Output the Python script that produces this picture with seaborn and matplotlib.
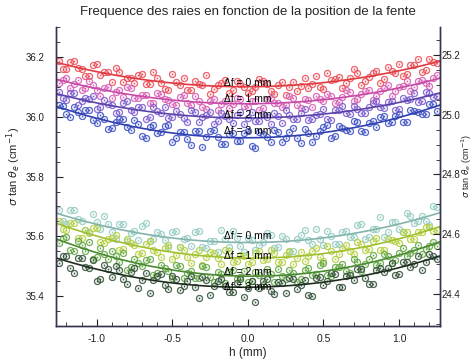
"""Frequence des raies en fonction de la position de la fente."""
import matplotlib
matplotlib.use('Agg')
import matplotlib.pyplot as plt
from matplotlib.ticker import MultipleLocator
import seaborn as sns

# slit positions (mm), two interleaved scans
h_a = [-1.25, -1.20, -1.15, -1.10, -1.05, -1.00, -0.95, -0.90, -0.85, -0.80,
       -0.75, -0.70, -0.65, -0.60, -0.55, -0.50, -0.45, -0.40, -0.35, -0.30,
       -0.25, -0.20, -0.15, -0.10, -0.05, 0.00, 0.05, 0.10, 0.15, 0.20,
       0.25, 0.30, 0.35, 0.40, 0.45, 0.50, 0.55, 0.60, 0.65, 0.70,
       0.75, 0.80, 0.85, 0.90, 0.95, 1.00, 1.05, 1.10, 1.15, 1.20, 1.25]
h_b = [-1.225, -1.175, -1.125, -1.075, -1.025, -0.975, -0.925, -0.875, -0.825, -0.775,
       -0.725, -0.675, -0.625, -0.575, -0.525, -0.475, -0.425, -0.375, -0.325, -0.275,
       -0.225, -0.175, -0.125, -0.075, -0.025, 0.025, 0.075, 0.125, 0.175, 0.225,
       0.275, 0.325, 0.375, 0.425, 0.475, 0.525, 0.575, 0.625, 0.675, 0.725,
       0.775, 0.825, 0.875, 0.925, 0.975, 1.025, 1.075, 1.125, 1.175, 1.225]

# upper line (left axis), delta f = 0..3 mm, scan a
top_0a = [36.185, 36.159, 36.186, 36.161, 36.135, 36.175, 36.148, 36.116, 36.149, 36.129,
          36.113, 36.142, 36.111, 36.128, 36.092, 36.143, 36.105, 36.091, 36.121, 36.106,
          36.076, 36.107, 36.124, 36.090, 36.109, 36.080, 36.099, 36.120, 36.086, 36.105,
          36.073, 36.116, 36.103, 36.095, 36.135, 36.094, 36.122, 36.133, 36.112, 36.158,
          36.107, 36.133, 36.153, 36.126, 36.154, 36.177, 36.144, 36.174, 36.149, 36.193, 36.181]
top_1a = [36.113, 36.131, 36.111, 36.088, 36.118, 36.089, 36.096, 36.064, 36.091, 36.099,
          36.061, 36.072, 36.046, 36.079, 36.058, 36.044, 36.067, 36.045, 36.071, 36.034,
          36.052, 36.023, 36.054, 36.042, 36.059, 36.033, 36.051, 36.028, 36.064, 36.047,
          36.038, 36.062, 36.029, 36.057, 36.071, 36.052, 36.068, 36.049, 36.088, 36.052,
          36.075, 36.091, 36.069, 36.096, 36.070, 36.101, 36.120, 36.098, 36.123, 36.103, 36.139]
top_2a = [36.083, 36.055, 36.081, 36.052, 36.058, 36.025, 36.056, 36.038, 36.017, 36.051,
          36.017, 36.032, 35.998, 36.019, 36.032, 35.998, 36.009, 35.981, 36.015, 35.998,
          36.016, 35.985, 36.004, 35.980, 36.015, 35.995, 35.985, 36.010, 35.976, 36.003,
          36.022, 35.992, 36.011, 35.989, 36.007, 36.026, 35.990, 36.021, 36.012, 36.036,
          36.011, 36.031, 36.051, 36.030, 36.052, 36.027, 36.056, 36.078, 36.053, 36.081, 36.071]
top_3a = [36.038, 36.008, 36.033, 36.003, 36.024, 35.978, 35.994, 35.961, 35.991, 35.966,
          35.990, 35.935, 35.967, 35.946, 35.970, 35.915, 35.950, 35.926, 35.953, 35.899,
          35.954, 35.932, 35.909, 35.945, 35.920, 35.954, 35.896, 35.941, 35.915, 35.950,
          35.930, 35.961, 35.911, 35.946, 35.934, 35.967, 35.928, 35.968, 35.957, 35.987,
          35.952, 35.980, 35.967, 36.003, 35.982, 36.010, 35.982, 36.019, 36.009, 36.042, 36.020]

# upper line, scan b
top_0b = [36.160, 36.184, 36.162, 36.137, 36.174, 36.139, 36.150, 36.163, 36.115, 36.131,
          36.139, 36.110, 36.149, 36.114, 36.089, 36.116, 36.128, 36.090, 36.108, 36.139,
          36.092, 36.113, 36.078, 36.121, 36.099, 36.085, 36.125, 36.108, 36.075, 36.116,
          36.099, 36.086, 36.130, 36.110, 36.098, 36.145, 36.126, 36.097, 36.128, 36.145,
          36.119, 36.145, 36.113, 36.166, 36.147, 36.136, 36.173, 36.192, 36.156, 36.182]
top_1b = [36.124, 36.096, 36.124, 36.097, 36.106, 36.069, 36.100, 36.083, 36.065, 36.095,
          36.061, 36.074, 36.045, 36.076, 36.057, 36.040, 36.072, 36.040, 36.052, 36.027,
          36.058, 36.043, 36.028, 36.061, 36.037, 36.051, 36.021, 36.058, 36.045, 36.034,
          36.069, 36.040, 36.060, 36.034, 36.060, 36.075, 36.046, 36.065, 36.082, 36.059,
          36.085, 36.057, 36.085, 36.106, 36.085, 36.104, 36.085, 36.120, 36.112, 36.128]
top_2b = [36.064, 36.078, 36.040, 36.061, 36.070, 36.031, 36.042, 36.013, 36.045, 36.023,
          36.031, 35.994, 36.033, 36.012, 35.995, 36.018, 35.996, 36.022, 35.984, 36.005,
          35.976, 36.011, 35.992, 36.005, 35.977, 36.017, 35.985, 36.000, 36.013, 35.978,
          36.007, 35.994, 36.026, 35.992, 36.008, 35.993, 36.024, 36.035, 36.010, 36.025,
          36.011, 36.047, 36.031, 36.048, 36.023, 36.062, 36.059, 36.048, 36.082, 36.066]
top_3b = [36.037, 36.000, 36.017, 36.024, 35.988, 36.006, 35.960, 35.983, 35.994, 35.957,
          35.975, 35.930, 35.974, 35.949, 35.974, 35.929, 35.950, 35.905, 35.953, 35.932,
          35.956, 35.909, 35.942, 35.919, 35.945, 35.901, 35.949, 35.932, 35.957, 35.914,
          35.948, 35.929, 35.959, 35.916, 35.951, 35.974, 35.937, 35.964, 35.954, 35.981,
          35.949, 35.986, 35.999, 35.980, 36.004, 35.982, 36.024, 36.015, 36.008, 36.041]

# lower line (left axis), delta f = 0..3 mm, scan a
low_0a = [35.689, 35.643, 35.689, 35.652, 35.615, 35.647, 35.669, 35.614, 35.640, 35.583,
          35.617, 35.634, 35.586, 35.615, 35.589, 35.616, 35.565, 35.595, 35.616, 35.564,
          35.585, 35.549, 35.592, 35.618, 35.567, 35.595, 35.555, 35.580, 35.604, 35.565,
          35.593, 35.550, 35.606, 35.587, 35.625, 35.572, 35.603, 35.573, 35.618, 35.598,
          35.641, 35.599, 35.626, 35.598, 35.649, 35.625, 35.677, 35.644, 35.668, 35.639, 35.697]
low_1a = [35.652, 35.620, 35.646, 35.594, 35.612, 35.629, 35.578, 35.596, 35.554, 35.592,
          35.570, 35.545, 35.585, 35.548, 35.562, 35.523, 35.563, 35.532, 35.542, 35.505,
          35.549, 35.528, 35.553, 35.514, 35.537, 35.507, 35.543, 35.520, 35.555, 35.514,
          35.537, 35.509, 35.548, 35.534, 35.561, 35.519, 35.550, 35.540, 35.571, 35.541,
          35.574, 35.558, 35.594, 35.556, 35.588, 35.579, 35.616, 35.590, 35.614, 35.632, 35.620]
low_2a = [35.579, 35.597, 35.550, 35.571, 35.580, 35.530, 35.542, 35.551, 35.514, 35.489,
          35.525, 35.501, 35.524, 35.477, 35.496, 35.460, 35.500, 35.479, 35.462, 35.501,
          35.463, 35.481, 35.444, 35.487, 35.464, 35.448, 35.482, 35.437, 35.476, 35.491,
          35.459, 35.477, 35.456, 35.493, 35.476, 35.512, 35.466, 35.497, 35.486, 35.523,
          35.483, 35.523, 35.506, 35.541, 35.512, 35.544, 35.534, 35.555, 35.542, 35.569, 35.569]
low_3a = [35.512, 35.534, 35.477, 35.529, 35.496, 35.452, 35.506, 35.465, 35.487, 35.442,
          35.494, 35.455, 35.411, 35.468, 35.438, 35.469, 35.420, 35.452, 35.431, 35.463,
          35.404, 35.450, 35.433, 35.413, 35.456, 35.428, 35.380, 35.451, 35.419, 35.446,
          35.410, 35.459, 35.437, 35.404, 35.460, 35.437, 35.478, 35.432, 35.467, 35.455,
          35.490, 35.440, 35.489, 35.481, 35.512, 35.474, 35.516, 35.509, 35.487, 35.540, 35.524]

# lower line, scan b
low_0b = [35.651, 35.688, 35.657, 35.620, 35.676, 35.624, 35.642, 35.591, 35.640, 35.613,
          35.589, 35.644, 35.592, 35.607, 35.566, 35.617, 35.590, 35.569, 35.617, 35.560,
          35.586, 35.623, 35.566, 35.595, 35.547, 35.589, 35.571, 35.610, 35.561, 35.600,
          35.548, 35.591, 35.623, 35.574, 35.591, 35.618, 35.573, 35.616, 35.598, 35.637,
          35.593, 35.624, 35.665, 35.616, 35.648, 35.614, 35.668, 35.653, 35.652, 35.701]
low_1b = [35.626, 35.644, 35.596, 35.620, 35.629, 35.582, 35.593, 35.605, 35.559, 35.579,
          35.540, 35.575, 35.556, 35.532, 35.572, 35.539, 35.554, 35.511, 35.554, 35.532,
          35.543, 35.508, 35.550, 35.519, 35.535, 35.513, 35.551, 35.526, 35.544, 35.513,
          35.550, 35.528, 35.517, 35.552, 35.531, 35.568, 35.526, 35.560, 35.551, 35.580,
          35.553, 35.585, 35.555, 35.591, 35.584, 35.615, 35.590, 35.614, 35.632, 35.618]
low_2b = [35.596, 35.556, 35.583, 35.552, 35.526, 35.562, 35.524, 35.533, 35.544, 35.498,
          35.510, 35.520, 35.471, 35.505, 35.484, 35.506, 35.462, 35.485, 35.462, 35.498,
          35.448, 35.473, 35.482, 35.458, 35.486, 35.452, 35.472, 35.492, 35.449, 35.468,
          35.488, 35.448, 35.487, 35.470, 35.506, 35.470, 35.497, 35.509, 35.478, 35.516,
          35.508, 35.538, 35.511, 35.536, 35.520, 35.560, 35.546, 35.571, 35.558, 35.582]
low_3b = [35.534, 35.493, 35.528, 35.497, 35.521, 35.459, 35.491, 35.500, 35.457, 35.482,
          35.426, 35.477, 35.455, 35.476, 35.425, 35.456, 35.433, 35.468, 35.394, 35.453,
          35.433, 35.456, 35.413, 35.444, 35.398, 35.452, 35.426, 35.459, 35.406, 35.443,
          35.461, 35.424, 35.454, 35.401, 35.464, 35.451, 35.474, 35.431, 35.471, 35.490,
          35.460, 35.441, 35.494, 35.493, 35.471, 35.515, 35.497, 35.536, 35.515, 35.536]

scans_a = [top_0a, top_1a, top_2a, top_3a, low_0a, low_1a, low_2a, low_3a]
scans_b = [top_0b, top_1b, top_2b, top_3b, low_0b, low_1b, low_2b, low_3b]
point_colors = ['#ec4f58', '#d860b4', '#7c5cd0', '#3f52c6',
                '#94ccc4', '#b4d040', '#62a644', '#34523a']
line_colors = ['#e03a40', '#c84aa8', '#5a44a8', '#3040b0',
               '#84b4ac', '#a0c030', '#4a8a30', '#1e2e1e']

labels = ['\u0394f = 0 mm', '\u0394f = 1 mm', '\u0394f = 2 mm', '\u0394f = 3 mm']
label_y_top = [36.113, 36.060, 36.007, 35.953]
label_y_low = [35.603, 35.533, 35.480, 35.430]

sns.set_style('ticks')
plt.rcParams['font.family'] = ['Liberation Sans', 'DejaVu Sans']
plt.rcParams['axes.unicode_minus'] = False

fig = plt.figure(figsize=(4.73, 3.60), dpi=100)
ax = fig.add_axes([0.118, 0.094, 0.812, 0.831])
ax.set_xlim(-1.27, 1.27)
ax.set_ylim(35.30, 36.30)

for ya, yb, pc in zip(scans_a, scans_b, point_colors):
    for xs, ys in ((h_a, ya), (h_b, yb)):
        sns.scatterplot(x=xs, y=ys, ax=ax, marker=r'$\odot$', s=24,
                        color=pc, edgecolor=pc, linewidth=0.35, alpha=0.85,
                        legend=False)

# quadratic fit through both scans
for ya, yb, lc in zip(scans_a, scans_b, line_colors):
    sns.regplot(x=h_a + h_b, y=ya + yb, ax=ax, order=2, scatter=False, ci=None,
                truncate=False, line_kws={'color': lc, 'lw': 1.2})

for lab, y in zip(labels + labels, label_y_top + label_y_low):
    ax.text(0.0, y, lab, ha='center', va='center', fontsize=7.5, color='black')

spine_col = '#3a3050'
ax2 = ax.twinx()
ax2.set_ylim(35.30 - 11.007, 36.30 - 11.007)
for a in (ax, ax2):
    a.spines['top'].set_visible(False)
    for s in ('left', 'right', 'bottom'):
        a.spines[s].set_color(spine_col)
        a.spines[s].set_linewidth(1.0)
    a.tick_params(direction='in', which='both', labelsize=7, colors='#222222')
    a.tick_params(which='major', length=5)
    a.tick_params(which='minor', length=3)
    a.yaxis.set_major_locator(MultipleLocator(0.2))
    a.yaxis.set_minor_locator(MultipleLocator(0.05))
ax.tick_params(axis='y', pad=8)
ax2.tick_params(axis='y', pad=1)
ax.tick_params(axis='x', labelsize=7.5, pad=6)
ax.xaxis.set_major_locator(MultipleLocator(0.5))
ax.xaxis.set_minor_locator(MultipleLocator(0.1))
ax.yaxis.set_major_formatter(plt.FormatStrFormatter('%.1f'))
ax2.yaxis.set_major_formatter(plt.FormatStrFormatter('%.1f'))
ax.xaxis.set_major_formatter(plt.FormatStrFormatter('%.1f'))

ylab = r'$\sigma$ tan $\theta_e$ (cm$^{-1}$)'
ax.set_ylabel(ylab, fontsize=8)
ax.yaxis.set_label_coords(-0.086, 0.535)
ax2.set_ylabel(ylab, fontsize=6.5)
ax2.yaxis.set_label_coords(1.052, 0.535)
ax.set_xlabel('h (mm)', fontsize=8.5, labelpad=2)
ax.set_title('Frequence des raies en fonction de la position de la fente',
             fontsize=9.5, pad=9)

fig.savefig('out.png', dpi=100)
